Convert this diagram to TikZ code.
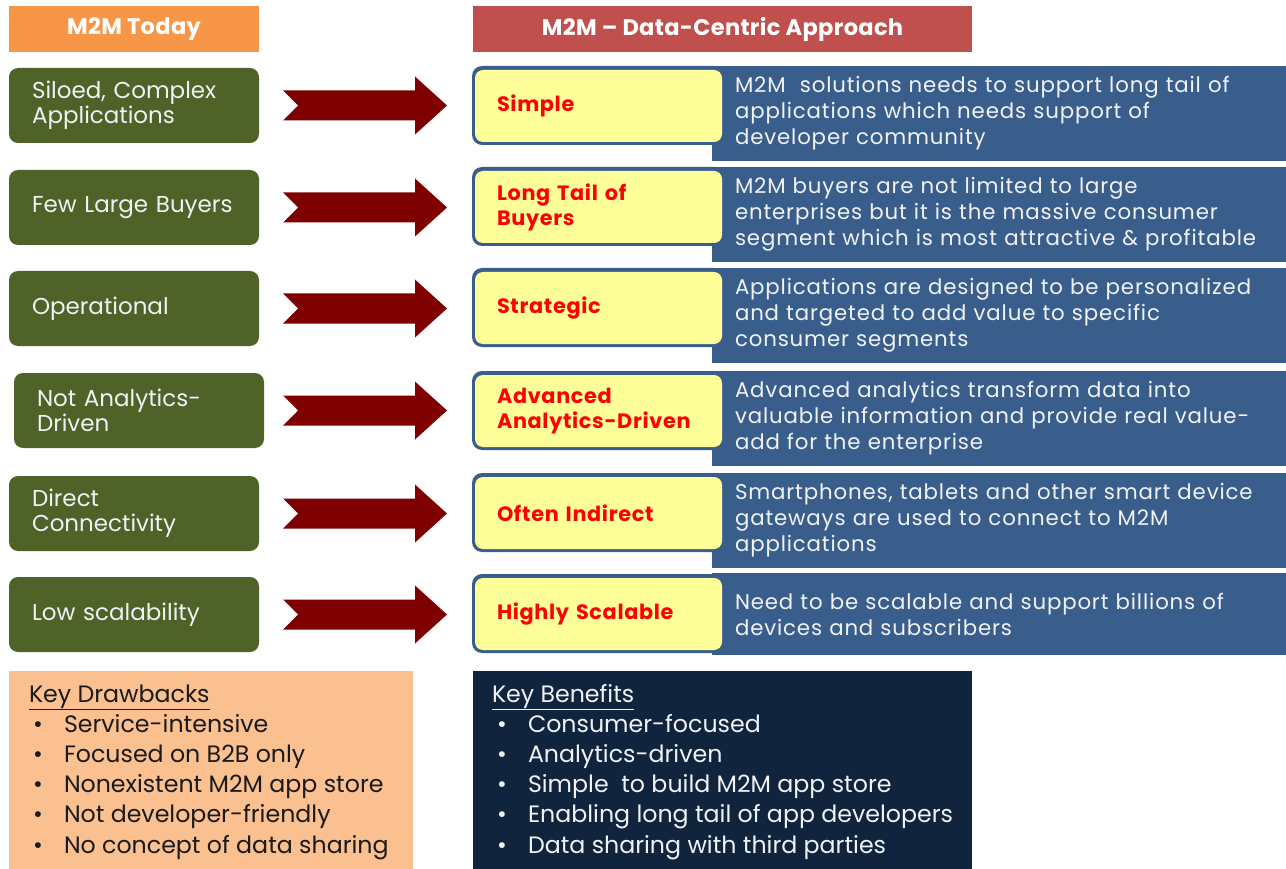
\documentclass[tikz,border=0pt]{standalone}
\usepackage{fontspec}
\setmainfont{Poppins}
\usetikzlibrary{calc}
\definecolor{hdrorange}{HTML}{F79646}
\definecolor{hdrred}{HTML}{C0504D}
\definecolor{oldgreen}{HTML}{4F6228}
\definecolor{arrowred}{HTML}{7F0000}
\definecolor{newblue}{HTML}{3A5E8C}
\definecolor{paleyellow}{HTML}{FFFF99}
\definecolor{peach}{HTML}{FAC090}
\definecolor{navy}{HTML}{10243E}
\definecolor{softwhite}{HTML}{F0F2F5}
\definecolor{darktext}{HTML}{1A1A1A}
\newcommand{\setfs}[2]{\fontsize{#1}{#2}\selectfont}
\newcommand{\spaced}[1]{\addfontfeature{LetterSpace=#1}}
\begin{document}
\begin{tikzpicture}[x=1pt,y=-1pt,
  every node/.style={inner sep=0pt, outer sep=0pt},
  header/.style={anchor=north west, minimum height=46pt, text=white,
    font=\bfseries\setfs{22.5}{26}\spaced{1.5}},
  oldbox/.style={anchor=north west, fill=oldgreen, rounded corners=9pt,
    minimum width=250pt, minimum height=75pt, text width=204pt,
    inner xsep=23pt, align=left, text=softwhite, font=\setfs{23}{25}},
  infobox/.style={anchor=north west, fill=newblue, minimum width=574pt,
    minimum height=95pt, text width=528pt, inner xsep=23pt, align=left,
    text=softwhite, font=\setfs{21.3}{26}\spaced{4}},
  frame/.style={anchor=north west, fill=newblue, rounded corners=10pt,
    minimum width=252pt, minimum height=79pt},
  tag/.style={anchor=north west, fill=paleyellow, rounded corners=8pt,
    minimum width=247pt, minimum height=72pt, text width=203pt,
    inner xsep=22pt, align=left, text=red,
    font=\bfseries\setfs{20.8}{25}\spaced{3.2}},
  arrowfill/.style={fill=arrowred},
  listline/.style={anchor=base west, font=\setfs{23.7}{30}},
]
\useasboundingbox (0,0) rectangle (1286,869);

% column headers
\node[header, fill=hdrorange, minimum width=250pt] (h1) at (9,6) {M2M Today};
\node[header, fill=hdrred, minimum width=499pt] (h2) at (473,6) {M2M – Data-Centric Approach};

% left column: today
\node[oldbox] (g1) at (9,68)  {Siloed, Complex\\Applications};
\node[oldbox] (g2) at (9,170) {Few Large Buyers};
\node[oldbox] (g3) at (9,271) {Operational};
\node[oldbox] (g4) at (14,373) {Not Analytics-\\Driven};
\node[oldbox] (g5) at (9,476) {Direct\\Connectivity};
\node[oldbox] (g6) at (9,577) {Low scalability};

% right column: descriptions
\node[infobox] (d1) at (712,66)  {M2M\ \ solutions needs to support long tail of\\applications which needs support of\\developer community};
\node[infobox] (d2) at (712,167) {M2M buyers are not limited to large\\enterprises but it is the massive consumer\\segment which is most attractive \& profitable};
\node[infobox] (d3) at (712,268) {Applications are designed to be personalized\\and targeted to add value to specific\\consumer segments};
\node[infobox] (d4) at (712,371) {Advanced analytics transform data into\\valuable information and provide real value-\\add for the enterprise};
\node[infobox] (d5) at (712,473) {Smartphones, tablets and other smart device\\gateways are used to connect to M2M\\applications};
\node[infobox, minimum height=82pt] (d6) at (712,573) {Need to be scalable and support billions of\\devices and subscribers};

% right column: framed labels
\node[frame] (f1) at (472,66)  {};
\node[frame] (f2) at (472,167) {};
\node[frame] (f3) at (472,268) {};
\node[frame] (f4) at (472,371) {};
\node[frame] (f5) at (472,473) {};
\node[frame] (f6) at (472,574) {};
\node[tag] (y1) at (475,70)  {Simple};
\node[tag] (y2) at (475,171) {Long Tail of\\Buyers};
\node[tag] (y3) at (475,272) {Strategic};
\node[tag] (y4) at (475,375) {Advanced\\Analytics-Driven};
\node[tag] (y5) at (475,477) {Often Indirect};
\node[tag] (y6) at (475,578) {Highly Scalable};

% notched arrows from each old trait to its new counterpart
\foreach \i in {1,...,6} {
  \coordinate (t\i) at ($(g\i.east -| f\i.west)+(-25,0)$);
  \fill[arrowfill] (t\i) -- ++(-32,-29) -- ++(0,14) -- ++(-132,0)
    -- ++(15,15) -- ++(-15,15) -- ++(132,0) -- ++(0,14) -- cycle;
}

% summary panels
\node[anchor=north west, fill=peach, minimum width=404pt, minimum height=198pt] (p1) at (9,671) {};
\node[anchor=north west, fill=navy, minimum width=499pt, minimum height=198pt] (p2) at (473,671) {};

\node[listline, text=darktext] (k0) at (29,702) {\underline{Key Drawbacks}};
\foreach \t [count=\n] in {Service-intensive, Focused on B2B only,
    Nonexistent M2M app store, Not developer-friendly,
    No concept of data sharing} {
  \node[listline, text=darktext] (kb\n) at (33,702+30.2*\n) {\textbullet};
  \node[listline, text=darktext] (k\n) at (64,702+30.2*\n) {\t};
}

\node[listline, text=softwhite] (b0) at (492,702) {\underline{Key Benefits}};
\foreach \t [count=\n] in {Consumer-focused, Analytics-driven,
    Simple\ \ to build M2M app store, Enabling long tail of app developers,
    Data sharing with third parties} {
  \node[listline, text=softwhite] (bb\n) at (497,702+30.2*\n) {\textbullet};
  \node[listline, text=softwhite] (b\n) at (528,702+30.2*\n) {\t};
}
\end{tikzpicture}
\end{document}
